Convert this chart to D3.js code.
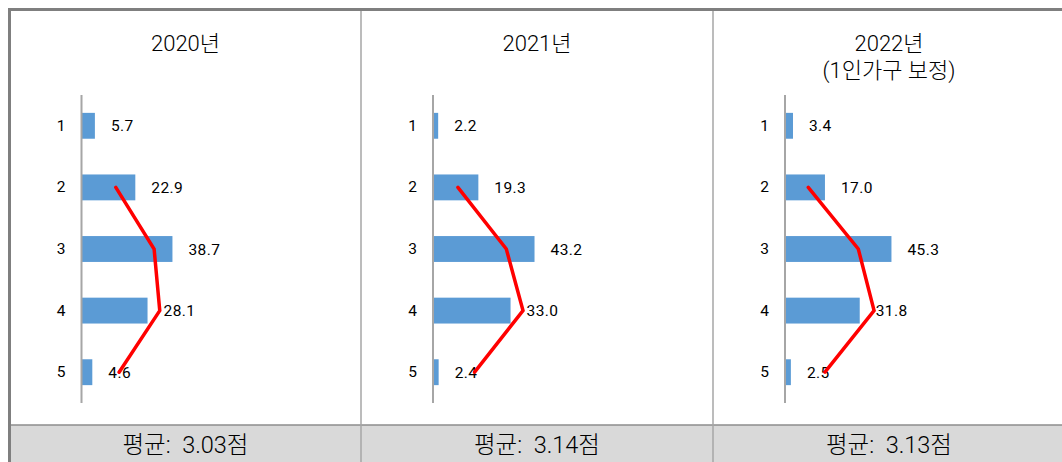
<!DOCTYPE html>
<html>
<head>
<meta charset="utf-8">
<script src="https://cdn.jsdelivr.net/npm/d3@7/dist/d3.min.js"></script>
<style>
  html, body { margin: 0; padding: 0; background: #fff; }
  svg { display: block; }
  text { font-family: Roboto, "Noto Sans CJK KR", sans-serif; fill: #000; white-space: pre; }
</style>
</head>
<body>
<svg id="chart" width="1062" height="462"></svg>
<script>
// Response categories (1–5 scale)
const categories = ["1", "2", "3", "4", "5"];

// Panel titles (second line optional)
const titles = [["2020년"], ["2021년"], ["2022년", "(1인가구 보정)"]];

// Share of responses per category (%)
const values2020 = [5.7, 22.9, 38.7, 28.1, 4.6];
const values2021 = [2.2, 19.3, 43.2, 33.0, 2.4];
const values2022 = [3.4, 17.0, 45.3, 31.8, 2.5];

// Red trend line over categories 2–5
const trendCats = ["2", "3", "4", "5"];
const trend2020 = [14.6, 30.9, 33.3, 16.0];
const trend2021 = [10.6, 31.2, 38.3, 17.7];
const trend2022 = [9.9, 31.2, 37.9, 17.0];

// Mean scores shown in the footer
const averages = ["3.03", "3.14", "3.13"];

const panels = [
  { title: titles[0], values: values2020, trend: trend2020, avg: averages[0] },
  { title: titles[1], values: values2021, trend: trend2021, avg: averages[1] },
  { title: titles[2], values: values2022, trend: trend2022, avg: averages[2] }
];

const svg = d3.select("#chart");
const W = 1062, H = 462;
const panelLeft = [9.5, 361, 713];
const panelW = 352;
const footerTop = 425;

// footer band
svg.append("rect")
  .attr("x", 9.5).attr("y", footerTop)
  .attr("width", W - 9.5).attr("height", H - footerTop)
  .attr("fill", "#d9d9d9");
svg.append("line")
  .attr("x1", 9.5).attr("x2", W)
  .attr("y1", footerTop).attr("y2", footerTop)
  .attr("stroke", "#8c8c8c").attr("stroke-width", 1.5);

// panel dividers
[361, 713].forEach(x => {
  svg.append("line")
    .attr("x1", x).attr("x2", x)
    .attr("y1", 9).attr("y2", H)
    .attr("stroke", "#a6a6a6").attr("stroke-width", 1.5);
});

// outer frame (top and left)
svg.append("line")
  .attr("x1", 8).attr("x2", W)
  .attr("y1", 9.5).attr("y2", 9.5)
  .attr("stroke", "#7f7f7f").attr("stroke-width", 3);
svg.append("line")
  .attr("x1", 9.5).attr("x2", 9.5)
  .attr("y1", 8).attr("y2", H)
  .attr("stroke", "#7f7f7f").attr("stroke-width", 3);

panels.forEach((p, i) => {
  const left = panelLeft[i];
  const cx = left + panelW / 2;
  const axisX = left + 72;
  const g = svg.append("g");

  const y = d3.scaleBand()
    .domain(categories)
    .range([95, 403])
    .paddingInner(0.58)
    .paddingOuter(0.29);

  const x = d3.scaleLinear()
    .domain([0, 100])
    .range([axisX, axisX + 235]);

  // title
  p.title.forEach((t, k) => {
    g.append("text")
      .attr("x", cx).attr("y", 51 + k * 27)
      .attr("text-anchor", "middle")
      .attr("font-size", 22)
      .attr("font-weight", 300)
      .text(t);
  });

  // bars
  g.selectAll("rect.bar")
    .data(categories.map((c, k) => ({ c, v: p.values[k] })))
    .join("rect")
    .attr("class", "bar")
    .attr("x", x(0))
    .attr("y", d => y(d.c))
    .attr("width", d => x(d.v) - x(0))
    .attr("height", y.bandwidth())
    .attr("fill", "#5b9bd5");

  // category axis
  const axis = d3.axisLeft(y).tickSize(0).tickPadding(16);
  const ag = g.append("g")
    .attr("transform", `translate(${axisX},0)`)
    .call(axis);
  ag.select(".domain").remove();
  ag.selectAll("text")
    .attr("font-size", 15.5)
    .attr("font-family", "Roboto, sans-serif")
    .attr("fill", "#000");
  g.append("line")
    .attr("x1", axisX).attr("x2", axisX)
    .attr("y1", 95).attr("y2", 403)
    .attr("stroke", "#a6a6a6").attr("stroke-width", 2);

  // value labels
  g.selectAll("text.val")
    .data(categories.map((c, k) => ({ c, v: p.values[k] })))
    .join("text")
    .attr("class", "val")
    .attr("x", d => x(d.v) + 16)
    .attr("y", d => y(d.c) + y.bandwidth() / 2)
    .attr("dy", "0.36em")
    .attr("font-size", 15.5)
    .attr("letter-spacing", 0.4)
    .text(d => d.v.toFixed(1));

  // red trend line
  const line = d3.line()
    .x(d => x(d.v))
    .y(d => y(d.c) + y.bandwidth() / 2);
  g.append("path")
    .datum(trendCats.map((c, k) => ({ c, v: p.trend[k] })))
    .attr("d", line)
    .attr("fill", "none")
    .attr("stroke", "#ff0000")
    .attr("stroke-width", 3.5)
    .attr("stroke-linejoin", "miter")
    .attr("stroke-linecap", "round");

  // footer mean
  g.append("text")
    .attr("x", cx).attr("y", 453)
    .attr("text-anchor", "middle")
    .attr("font-size", 23.5)
    .attr("font-weight", 300)
    .text(`평균:  ${p.avg}점`);
});
</script>
</body>
</html>
